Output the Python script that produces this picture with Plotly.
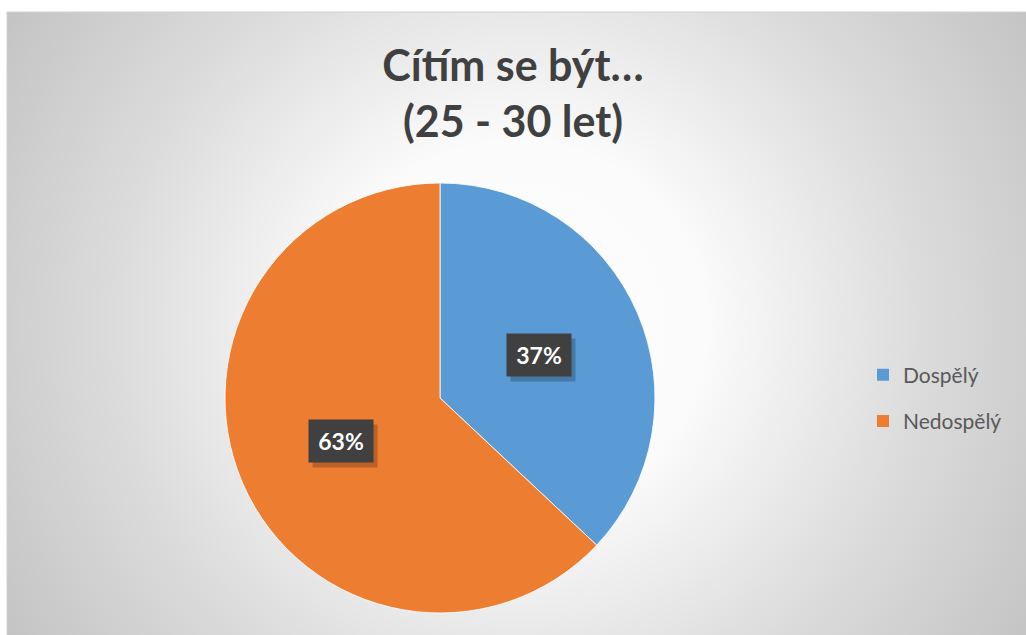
import math
import base64
import plotly.graph_objects as go

# ---- data ----
title_lines = ["Cítím se být…", "(25 - 30 let)"]
categories = ["Dospělý", "Nedospělý"]
shares = [37, 63]
colors = ["#5B9BD5", "#ED7D31"]

W, H = 1026, 635

# pie placement (paper fractions)
dom_x = [0.2193, 0.6384]
dom_y = [0.0347, 0.7118]

fig = go.Figure()

fig.add_trace(go.Pie(
    labels=categories,
    values=shares,
    sort=False,
    direction="clockwise",
    rotation=0,
    marker=dict(colors=colors, line=dict(color="rgba(255,255,255,0.8)", width=1)),
    textinfo="none",
    hoverinfo="label+percent",
    showlegend=False,
    domain=dict(x=dom_x, y=dom_y),
))

# legend entries as dummy traces (for spacing control)
for i, (cat, col) in enumerate(zip(categories, colors)):
    fig.add_trace(go.Scatter(
        x=[None], y=[None], mode="markers", name=cat,
        marker=dict(symbol="square", size=12, color=col),
        legendgroup=f"g{i}", showlegend=True,
    ))

# percentage label boxes placed at half radius along the slice mid-angle
cx_px = (dom_x[0] + dom_x[1]) / 2 * W
cy_px = (dom_y[0] + dom_y[1]) / 2 * H
R_px = min((dom_x[1] - dom_x[0]) * W, (dom_y[1] - dom_y[0]) * H) / 2
total = sum(shares)
cum = 0
annotations = []
for v in shares:
    mid = (cum + v / 2) / total * 2 * math.pi
    cum += v
    px = cx_px + 0.5 * R_px * math.sin(mid)
    py = cy_px + 0.5 * R_px * math.cos(mid)
    pct = f"{round(v / total * 100)}%"
    # shadow
    annotations.append(dict(
        x=px / W, y=py / H, xref="paper", yref="paper", text=" ",
        xanchor="center", yanchor="middle",
        showarrow=False, bgcolor="rgba(0,0,0,0.22)", width=60, height=38,
        borderpad=2, xshift=4, yshift=-5,
    ))
    annotations.append(dict(
        x=px / W, y=py / H, xref="paper", yref="paper",
        xanchor="center", yanchor="middle",
        text=f"<b>{pct}</b>", showarrow=False,
        font=dict(family="Lato, Open Sans, sans-serif", size=23, color="white"),
        bgcolor="#404040", width=60, height=38, borderpad=2,
    ))

# radial gradient background (SVG data URI)
svg = f'''<svg xmlns="http://www.w3.org/2000/svg" width="{W}" height="{H}" viewBox="0 0 {W} {H}" preserveAspectRatio="none">
<defs><radialGradient id="g" cx="{515}" cy="{320}" r="{620}" gradientUnits="userSpaceOnUse">
<stop offset="0" stop-color="#ffffff"/><stop offset="0.3" stop-color="#fbfbfb"/>
<stop offset="0.65" stop-color="#dcdcdc"/><stop offset="1" stop-color="#c2c2c2"/></radialGradient></defs>
<rect x="0" y="0" width="{W}" height="{H}" fill="url(#g)"/></svg>'''
uri = "data:image/svg+xml;base64," + base64.b64encode(svg.encode()).decode()

x0, y0 = 7, 12
fig.update_layout(
    width=W, height=H,
    margin=dict(l=0, r=0, t=0, b=0),
    paper_bgcolor="white",
    plot_bgcolor="rgba(0,0,0,0)",
    xaxis=dict(visible=False), yaxis=dict(visible=False),
    images=[dict(source=uri, xref="paper", yref="paper", x=x0 / W, y=1 - y0 / H,
                 sizex=(W - x0) / W, sizey=(H - y0) / H, xanchor="left", yanchor="top",
                 sizing="stretch", layer="below")],
    shapes=[dict(type="rect", xref="paper", yref="paper", x0=x0 / W, x1=1.002, y0=-0.002, y1=1 - y0 / H,
                 line=dict(color="#d0d0d0", width=1), fillcolor="rgba(0,0,0,0)", layer="below")],
    title=dict(
        text="<b>" + "<br>".join(title_lines) + "</b>",
        x=0.5, xanchor="center", y=1 - 81 / H, yanchor="middle",
        font=dict(family="Lato, Open Sans, sans-serif", size=43, color="#404040"),
    ),
    legend=dict(
        x=863 / W, xanchor="left", y=1 - 398 / H, yanchor="middle",
        font=dict(family="Lato, Open Sans, sans-serif", size=21, color="#595959"),
        tracegroupgap=16, bgcolor="rgba(0,0,0,0)",
    ),
    annotations=annotations,
)

fig.write_html("out.html", config={"displayModeBar": False},
               post_script="document.body.style.margin='0';document.body.style.overflow='hidden';")
